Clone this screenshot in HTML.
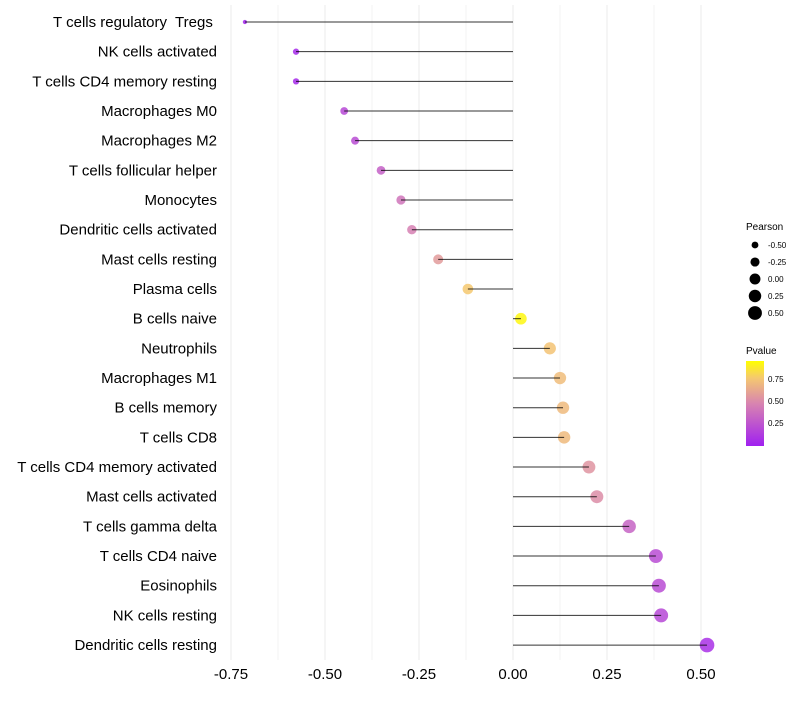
<!DOCTYPE html>
<html><head><meta charset="utf-8"><style>
body{margin:0;background:#fff;font-family:"Liberation Sans",sans-serif;}
svg text{font-family:"Liberation Sans",sans-serif;}
</style></head><body>
<svg id="chart" width="800" height="700" xmlns="http://www.w3.org/2000/svg">
<defs><linearGradient id="pg" x1="0" y1="1" x2="0" y2="0">
<stop offset="0" stop-color="#a020f0"/><stop offset="0.5" stop-color="#d884b0"/><stop offset="0.8" stop-color="#f5c870"/><stop offset="1" stop-color="#ffff00"/></linearGradient></defs>
<g id="grid"></g><g id="marks"></g><g id="labels"></g>
<g>
<text x="746" y="230" font-size="10">Pearson</text>
<g id="sizeleg"></g></g>
<g>
<text x="746" y="354" font-size="10">Pvalue</text>
<rect x="746" y="361" width="18" height="85" fill="url(#pg)"/>
<text x="768" y="382" font-size="8">0.75</text>
<text x="768" y="404" font-size="8">0.50</text>
<text x="768" y="426" font-size="8">0.25</text>
</g>
</svg>
<script>
const categories=["T cells regulatory  Tregs ","NK cells activated","T cells CD4 memory resting","Macrophages M0","Macrophages M2","T cells follicular helper","Monocytes","Dendritic cells activated","Mast cells resting","Plasma cells","B cells naive","Neutrophils","Macrophages M1","B cells memory","T cells CD8","T cells CD4 memory activated","Mast cells activated","T cells gamma delta","T cells CD4 naive","Eosinophils","NK cells resting","Dendritic cells resting"];
const pearson=[-0.713,-0.577,-0.577,-0.449,-0.42,-0.351,-0.298,-0.269,-0.199,-0.12,0.021,0.098,0.125,0.133,0.136,0.202,0.223,0.309,0.38,0.388,0.394,0.516];
const pvalue=[0.02,0.05,0.05,0.2,0.22,0.32,0.42,0.48,0.6,0.8,0.97,0.78,0.75,0.74,0.74,0.57,0.54,0.34,0.22,0.22,0.2,0.08];
const xTicks=[-0.75,-0.5,-0.25,0,0.25,0.5];
const xTickLabels=["-0.75","-0.50","-0.25","0.00","0.25","0.50"];
const legendVals=[-0.5,-0.25,0,0.25,0.5];
const legendLabels=["-0.50","-0.25","0.00","0.25","0.50"];
const NS="http://www.w3.org/2000/svg";
const X=v=>513+v*376;
const Y=i=>22+i*29.67;
const R=v=>Math.sqrt(Math.max(2,33+40*v));
function col(p){const st=[[0,[160,32,240]],[0.5,[216,132,176]],[0.8,[245,200,112]],[1,[255,255,0]]];
for(let k=1;k<st.length;k++){if(p<=st[k][0]){const a=st[k-1],b=st[k],t=(p-a[0])/(b[0]-a[0]);return "rgb("+a[1].map((c,j)=>Math.round(c+(b[1][j]-c)*t)).join(",")+")";}}return "rgb(255,255,0)";}
function el(t,at,par){const e=document.createElementNS(NS,t);for(const k in at)e.setAttribute(k,at[k]);par.appendChild(e);return e;}
const grid=document.getElementById('grid'),marks=document.getElementById('marks'),labels=document.getElementById('labels');
for(let v=-0.875;v<=0.63;v+=0.125){const x=X(v);if(x<225||x>725)continue;
const l=el('line',{x1:x,x2:x,y1:5,y2:660,stroke:'#ebebeb','stroke-width':Math.abs(v*4-Math.round(v*4))<1e-6?1:0.6},grid);

}
xTicks.forEach((v,i)=>{const t=el('text',{x:X(v),y:679,'font-size':15,'text-anchor':'middle',fill:'#000'},labels);t.textContent=xTickLabels[i];

});
categories.forEach((c,i)=>{const y=Y(i);
const t=el('text',{x:217,y:y+5,'font-size':15,'text-anchor':'end',fill:'#000'},labels);t.textContent=c;
t.setAttribute('xml:space','preserve');t.style.whiteSpace='pre';


const pt=el('circle',{cx:X(pearson[i]),cy:y,r:R(pearson[i]),fill:col(pvalue[i]),'fill-opacity':0.85},marks);


const s=el('line',{x1:X(0),x2:X(pearson[i]),y1:y,y2:y,stroke:'#000','stroke-width':1,'stroke-opacity':0.8},marks);

});
const sl=document.getElementById('sizeleg');
legendVals.forEach((v,i)=>{const y=245+i*17;
const c=el('circle',{cx:755,cy:y,r:R(v)*0.95,fill:'#000'},sl);


const t=el('text',{x:768,y:y+3,'font-size':8},sl);t.textContent=legendLabels[i];

});
</script>
</body></html>
